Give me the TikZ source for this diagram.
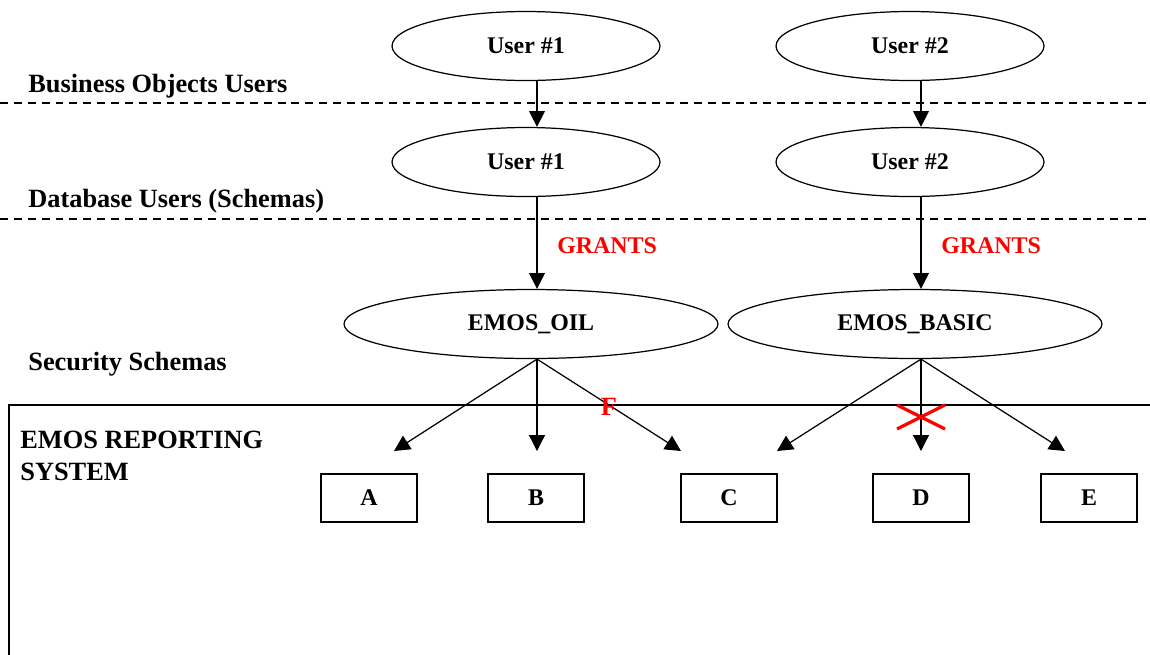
\documentclass[tikz,border=0pt]{standalone}
\usepackage{fontspec}
\setmainfont{Liberation Serif}
\usetikzlibrary{shapes.geometric,arrows.meta}

\begin{document}
\begin{tikzpicture}[x=0.02cm,y=-0.02cm,
        font=\fontsize{13.6}{16}\selectfont\bfseries,
        user/.style={draw,ellipse,line width=0.7pt,inner sep=0pt,
            minimum width=5.36cm,minimum height=1.38cm},
        schema/.style={draw,ellipse,line width=0.7pt,inner sep=0pt,
            minimum width=7.48cm,minimum height=1.38cm},
        tblbox/.style={draw,line width=0.7pt,inner sep=0pt,
            minimum width=1.92cm,minimum height=0.96cm},
        lbl/.style={anchor=base west,inner sep=0pt,
            font=\fontsize{15}{17.8}\selectfont\bfseries},
        grants/.style={anchor=base west,inner sep=0pt,text=red},
        arr/.style={line width=0.7pt,-{Triangle[length=9pt,width=9pt]}},
        divider/.style={line width=0.6pt,dash pattern=on 4.5pt off 3.4pt}]
    \clip (0,0) rectangle (1150,654);

    % layers
    \draw[divider] (0,103) -- (1150,103);
    \draw[divider] (0,219) -- (1150,219);
    \draw[line width=0.7pt] (9,405) rectangle (1170,680);

    \node[lbl] (lblbo) at (28,92) {Business Objects Users};
    \node[lbl] (lbldb) at (28,207) {Database Users (Schemas)};
    \node[lbl] (lblsec) at (28,370) {Security Schemas};
    \node[lbl,anchor=north west,align=left] (lblsys)
        at (20,431) {EMOS REPORTING\\SYSTEM};

    % users and schemas
    \node[user] (bo1) at (526,46) {User \#1};
    \node[user] (bo2) at (910,46) {User \#2};
    \node[user] (db1) at (526,162) {User \#1};
    \node[user] (db2) at (910,162) {User \#2};
    \node[schema] (oil) at (531,324) {EMOS\_OIL};
    \node[schema] (basic) at (915,324) {EMOS\_BASIC};

    % tables
    \node[tblbox] (A) at (369,498) {A};
    \node[tblbox] (B) at (536,498) {B};
    \node[tblbox] (C) at (729,498) {C};
    \node[tblbox] (D) at (921,498) {D};
    \node[tblbox] (E) at (1089,498) {E};

    \coordinate (lane1) at (537,0);
    \coordinate (lane2) at (921,0);
    \coordinate (tipA) at (394,451);
    \coordinate (tipB) at (537,451);
    \coordinate (tipCa) at (681,451);
    \coordinate (tipCb) at (777,451);
    \coordinate (tipD) at (921,451);
    \coordinate (tipE) at (1065,451);

    \draw[arr] (bo1.south -| lane1) -- (db1.north -| lane1);
    \draw[arr] (bo2.south -| lane2) -- (db2.north -| lane2);
    \draw[arr] (db1.south -| lane1) -- (oil.north -| lane1);
    \draw[arr] (db2.south -| lane2) -- (basic.north -| lane2);
    \node[grants] (g1) at (557,253) {GRANTS};
    \node[grants] (g2) at (941,253) {GRANTS};

    \foreach \t in {A,B,Ca}
        \draw[arr] (oil.south -| lane1) -- (tip\t);
    \foreach \t in {Cb,D,E}
        \draw[arr] (basic.south -| lane2) -- (tip\t);

    \node[text=red,inner sep=0pt,font=\fontsize{15}{18}\selectfont\bfseries]
        (f) at (609,407) {F};
    \draw[red,line width=1.8pt] (897,405) -- (945,429) (897,429) -- (945,405);
\end{tikzpicture}
\end{document}
